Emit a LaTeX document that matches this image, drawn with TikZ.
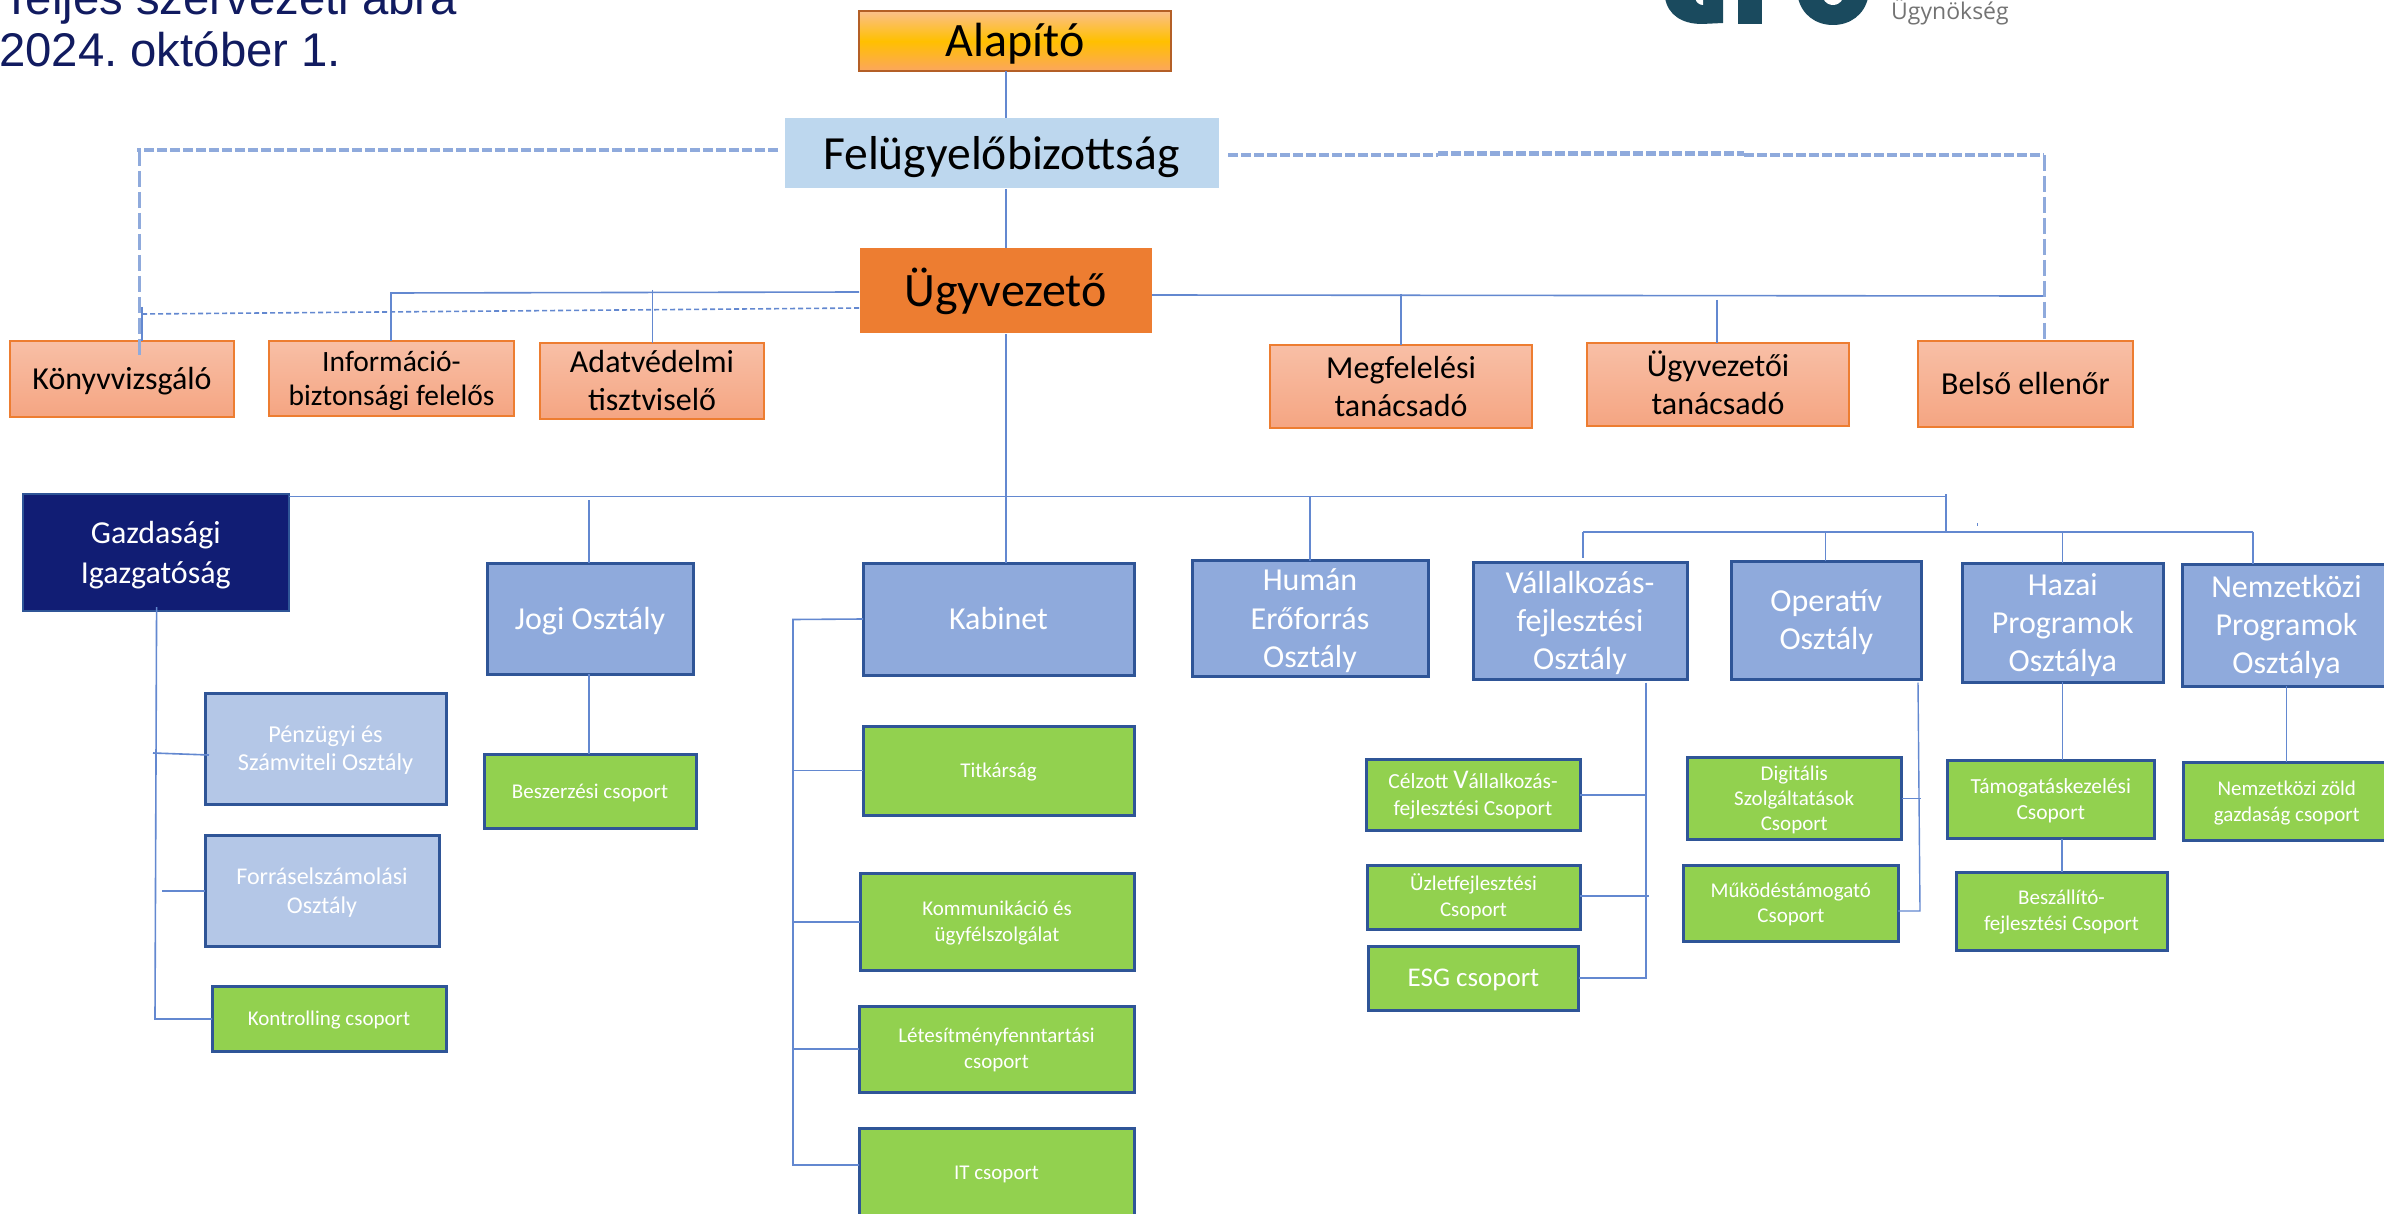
\documentclass[tikz,border=0pt]{standalone}
\usepackage{fontspec}
\setmainfont{Carlito}
\newfontfamily\titlefont{Liberation Sans}
\newfontfamily\logofont{Open Sans}
\definecolor{navy}{HTML}{111D74}
\definecolor{titlenavy}{HTML}{111B60}
\definecolor{linkblue}{HTML}{6388D0}
\definecolor{dashblue}{HTML}{8FAADC}
\definecolor{deepblue}{HTML}{2F5597}
\definecolor{midblue}{HTML}{8FAADC}
\definecolor{paleblue}{HTML}{B4C7E7}
\definecolor{skyblue}{HTML}{BDD7EE}
\definecolor{leaf}{HTML}{92D14F}
\definecolor{peachtop}{HTML}{F8BFA6}
\definecolor{peachbot}{HTML}{F5A582}
\definecolor{peachline}{HTML}{ED7D31}
\definecolor{orangefill}{HTML}{ED7D31}
\definecolor{logoteal}{HTML}{1A4A5E}
\definecolor{founderline}{HTML}{B45F26}
\definecolor{foundertop}{HTML}{FBBF8C}
\definecolor{foundermid}{HTML}{FFC000}
\definecolor{founderbot}{HTML}{FBA65D}
\tikzset{
  orgbase/.style={rectangle,inner sep=0pt,outer sep=0pt,align=center},
  founderbox/.style={orgbase,draw=founderline,line width=2.5pt,top color=foundertop,bottom color=founderbot,middle color=foundermid,text=black},
  boardbox/.style={orgbase,fill=skyblue,draw=white,line width=1pt,text=black},
  ceobox/.style={orgbase,fill=orangefill,draw=white,line width=1pt,text=black},
  advisorbox/.style={orgbase,draw=peachline,line width=2pt,top color=peachtop,bottom color=peachbot,text=black},
  navybox/.style={orgbase,fill=navy,draw=deepblue,line width=2pt,text=white},
  deptbox/.style={orgbase,fill=midblue,draw=deepblue,line width=3pt,text=white},
  subdeptbox/.style={orgbase,fill=paleblue,draw=deepblue,line width=3pt,text=white},
  groupbox/.style={orgbase,fill=leaf,draw=deepblue,line width=3pt,text=white},
  link/.style={draw=linkblue,line width=1.6pt},
  thinlink/.style={draw=linkblue,line width=1.4pt},
  thickdash/.style={draw=dashblue,line width=4.5pt,dash pattern=on 10pt off 3pt},
  sidedash/.style={draw=dashblue,line width=3pt,dash pattern=on 16pt off 5pt},
  thindash/.style={draw=linkblue,line width=1.6pt,dash pattern=on 5pt off 3pt}
}
\newcommand{\orgbox}[9]{%
  \node[#6,font=\fontsize{#7}{#8}\selectfont,minimum width={(#4-#2)*1pt},minimum height={(#5-#3)*1pt}]
    (#1) at ({(#2+#4)/2},{(#3+#5)/2}) {\raisebox{\fpeval{0.2*#8-0.33*#7}pt}[\height][\depth]{\begin{tabular}{@{}c@{}}#9\end{tabular}}};}
\begin{document}
\frenchspacing
\begin{tikzpicture}[x=1pt,y=-1pt]
\useasboundingbox (0,0) rectangle (2384,1214);
\fill[white] (0,0) rectangle (2384,1214);
\clip (0,0) rectangle (2384,1214);
% title
\node[anchor=base west,inner sep=0pt,text=titlenavy,font=\titlefont\fontsize{47.3}{47.3}\selectfont] (title1) at (2,15) {Teljes szervezeti ábra};
\node[anchor=base west,inner sep=0pt,text=titlenavy,font=\titlefont\fontsize{47.3}{47.3}\selectfont] (title2) at (-1,67) {2024. október 1.};
% cropped logo
\fill[logoteal] (1665,-2) .. controls (1668,15) and (1682,24) .. (1702,24) -- (1723,23) -- (1723,-2) -- cycle;
\fill[white] (1695,-2) .. controls (1696,3) and (1700,5) .. (1703,5) -- (1703,-2) -- cycle;
\fill[logoteal] (1738,-2) rectangle (1762,24);
\fill[logoteal] (1798,-2) .. controls (1802,15) and (1816,25) .. (1833,25) .. controls (1850,25) and (1864,15) .. (1868,-2) -- cycle;
\fill[white] (1823,-2) .. controls (1825,3) and (1829,5) .. (1833,5) .. controls (1837,5) and (1841,3) .. (1843,-2) -- cycle;
\node[anchor=base west,inner sep=0pt,text=black!55,font=\logofont\fontsize{23}{23}\selectfont] (logotext) at (1891,20) {Ügynökség};
% top column
\orgbox{alapito}{859}{11}{1171}{71}{founderbox}{48}{58}{Alapító}
\orgbox{felu}{784}{118}{1219}{189}{boardbox}{47.6}{58}{Felügyelőbizottság}
\orgbox{ugyv}{859}{248}{1152}{334}{ceobox}{48}{58}{Ügyvezető}
% advisors
\orgbox{konyv}{10}{341}{234}{417}{advisorbox}{32}{38}{Könyvvizsgáló}
\orgbox{info}{269}{341}{514}{416}{advisorbox}{29.5}{34}{Információ-\\biztonsági felelős}
\orgbox{adat}{540}{343}{764}{419}{advisorbox}{32}{38}{Adatvédelmi\\tisztviselő}
\orgbox{megf}{1270}{345}{1532}{428}{advisorbox}{32}{38}{Megfelelési\\tanácsadó}
\orgbox{ugytan}{1587}{343}{1849}{426}{advisorbox}{32}{38}{Ügyvezetői\\tanácsadó}
\orgbox{belso}{1918}{341}{2133}{427}{advisorbox}{32}{38}{Belső ellenőr}
% departments
\orgbox{gazd}{22.5}{494}{289}{611}{navybox}{32}{40}{Gazdasági\\Igazgatóság}
\orgbox{jogi}{487}{563}{693}{674}{deptbox}{32}{38}{Jogi Osztály}
\orgbox{kabinet}{863}{563}{1134}{675}{deptbox}{32}{38}{Kabinet}
\orgbox{human}{1192}{561.5}{1428}{675.5}{deptbox}{32}{38.4}{Humán\\Erőforrás\\Osztály}
\orgbox{vall}{1473}{562}{1687}{679}{deptbox}{32}{38}{Vállalkozás-\\fejlesztési\\Osztály}
\orgbox{oper}{1731}{561}{1921.5}{679}{deptbox}{32}{38}{Operatív\\Osztály}
\orgbox{hazai}{1962}{563}{2163.5}{682}{deptbox}{32}{38}{Hazai\\Programok\\Osztálya}
\orgbox{nemz}{2182}{564}{2391}{686}{deptbox}{32}{38}{Nemzetközi\\Programok\\Osztálya}
% finance children
\orgbox{penz}{205}{693}{446}{804}{subdeptbox}{24.3}{28.7}{Pénzügyi és\\Számviteli Osztály}
\orgbox{forras}{205}{835.5}{439}{946.5}{subdeptbox}{24}{28.7}{Forráselszámolási\\Osztály}
\orgbox{kontr}{212}{986}{446}{1051}{groupbox}{21}{26}{Kontrolling csoport}
\orgbox{besz}{484}{754.4}{696}{828.6}{groupbox}{21}{26}{Beszerzési csoport}
% cabinet children
\orgbox{titk}{863}{726}{1134}{815}{groupbox}{21}{26}{Titkárság}
\orgbox{komm}{860}{873}{1134}{970.6}{groupbox}{21}{26}{Kommunikáció és\\ügyfélszolgálat}
\orgbox{letes}{859}{1006}{1134}{1092}{groupbox}{21}{26}{Létesítményfenntartási\\csoport}
\orgbox{itcs}{859}{1128}{1134}{1218}{groupbox}{21}{26}{IT csoport}
% enterprise children
\orgbox{celz}{1366}{759}{1580}{830}{groupbox}{21.5}{27}{Célzott {\fontsize{27}{27}\selectfont V}állalkozás-\\fejlesztési Csoport}
\orgbox{uzlet}{1367}{865}{1580}{929}{groupbox}{21}{26}{Üzletfejlesztési\\Csoport}
\orgbox{esg}{1368.5}{946}{1578.5}{1010}{groupbox}{27}{30}{ESG csoport}
% operative children
\orgbox{digi}{1687}{757.6}{1901.5}{839}{groupbox}{21}{25}{Digitális\\Szolgáltatások\\Csoport}
\orgbox{mukod}{1683.7}{865}{1898}{941}{groupbox}{21}{25}{Működéstámogató\\Csoport}
% programme children
\orgbox{tamog}{1947}{760}{2154.5}{838.5}{groupbox}{21.5}{26}{Támogatáskezelési\\Csoport}
\orgbox{beszall}{1956}{872}{2167}{950}{groupbox}{21}{26}{Beszállító-\\fejlesztési Csoport}
\orgbox{zold}{2183.5}{762}{2390}{840.5}{groupbox}{21}{26}{Nemzetközi zöld\\gazdaság csoport}
% helper coordinates
\coordinate (spine) at (1006,0);
\coordinate (mainbus) at (0,496.5);
\coordinate (subbus) at (0,531.7);
\coordinate (drop) at (1946,494);
\coordinate (leftdash) at (137,150);
\coordinate (rightdash) at (2044,155);
\coordinate (leftbus) at (391,293);
\coordinate (rightbusend) at (2043,296);
\coordinate (thinend) at (142,314);
\coordinate (thintop) at (142,307);
\coordinate (adattop) at (652.5,290);
\coordinate (ugytantop) at (1717,300);
\coordinate (megftop) at (1401,294);
\coordinate (jogitop) at (589,500);
\coordinate (humantop) at (1310,496.5);
\coordinate (valltop) at (1583,531.7);
\coordinate (vallgap) at (1583,557.5);
\coordinate (opertop) at (1825.4,533);
\coordinate (hazaitop) at (2062.5,531.7);
\coordinate (nemztop) at (2253,531.7);
\coordinate (busend) at (2253,531.7);
\coordinate (gazdfoot) at (155,1019);
\coordinate (gazdtop) at (156.6,607);
\coordinate (kabrail) at (793,619.5);
\coordinate (kabfoot) at (793,1165);
\coordinate (vallrail) at (1645.7,682.5);
\coordinate (vallfoot) at (1645.7,978);
\coordinate (operrail) at (1918,682.5);
\coordinate (operfoot) at (1920,911);
\coordinate (tick) at (1977.5,523);
% spine
\draw[link] (spine |- alapito.south) -- (spine |- felu.north);
\draw[link] (spine |- felu.south) -- (spine |- ugyv.north);
\draw[link] (spine |- ugyv.south) -- (spine |- mainbus);
\draw[link] (spine |- mainbus) -- (spine |- kabinet.north);
% dashed supervisory lines
\draw[thickdash] (felu.west |- leftdash) ++(-6,0) -- (leftdash);
\draw[sidedash] (139,150) -- (139,355);
\draw[thickdash] (felu.east |- rightdash) ++(9,0) -- (1438,155);
\draw[thickdash] (1438,153.7) -- (1744,153.7);
\draw[thickdash] (1744,155) -- (rightdash);
\draw[sidedash] (rightdash) -- (rightdash |- belso.north);
% left advisors
\draw[link] (ugyv.west |- 0,292) -- (leftbus) -- (leftbus |- info.north);
\draw[thinlink] (adattop) -- (adattop |- adat.north);
\draw[thindash] (ugyv.west |- 0,308) -- (thinend);
\draw[link] (thintop) -- (thintop |- konyv.north);
% right advisors
\draw[link] (ugyv.east |- 0,295) -- (rightbusend);
\draw[thinlink] (megftop) -- (megftop |- megf.north);
\draw[thinlink] (ugytantop) -- (ugytantop |- ugytan.north);
% main bus
\draw[link] (gazd.east |- mainbus) -- (drop |- mainbus);
\draw[link] (drop) -- (drop |- subbus);
\draw[link] (jogitop) -- (jogitop |- jogi.north);
\draw[link] (humantop) -- (humantop |- human.north);
\draw[link] (valltop) -- (busend);
\draw[link] (valltop) -- (vallgap);
\draw[link] (opertop) -- (opertop |- oper.north);
\draw[link] (hazaitop) -- (hazaitop |- hazai.north);
\draw[thinlink] (nemztop) -- (nemztop |- nemz.north);
\draw[thinlink] (tick) -- ++(0,3);
% finance
\draw[link] (gazdtop) -- (gazdfoot) -- (kontr.west |- gazdfoot);
\draw[link] (153,753) -- (209,755);
\draw[link] (162,891) -- (forras.west |- 0,891);
% legal
\draw[link] (jogitop |- jogi.south) -- (jogitop |- besz.north);
% cabinet
\draw[link] (kabinet.west) -- (kabrail) -- (kabfoot) -- (itcs.west |- kabfoot);
\draw[link] (kabrail |- titk.west) -- (titk.west);
\draw[link] (kabrail |- komm.west) -- (komm.west);
\draw[link] (kabrail |- letes.west) -- (letes.west);
% enterprise
\draw[link] (vallrail) -- (vallfoot) -- (esg.east |- vallfoot);
\draw[link] (celz.east |- 0,795) -- (vallrail |- 0,795);
\draw[link] (uzlet.east |- 0,896) -- (1649,896);
% operative
\draw[thinlink] (operrail) -- (operfoot) -- (mukod.east |- operfoot);
\draw[thinlink] (digi.east |- 0,798.5) -- (1921,798.5);
% programmes
\draw[link] (hazaitop |- hazai.south) -- (hazaitop |- tamog.north);
\draw[thinlink] (2062,838.5) -- (2062,872);
\draw[link] (2286.5,686) -- (2286.5,762);
\end{tikzpicture}
\end{document}
